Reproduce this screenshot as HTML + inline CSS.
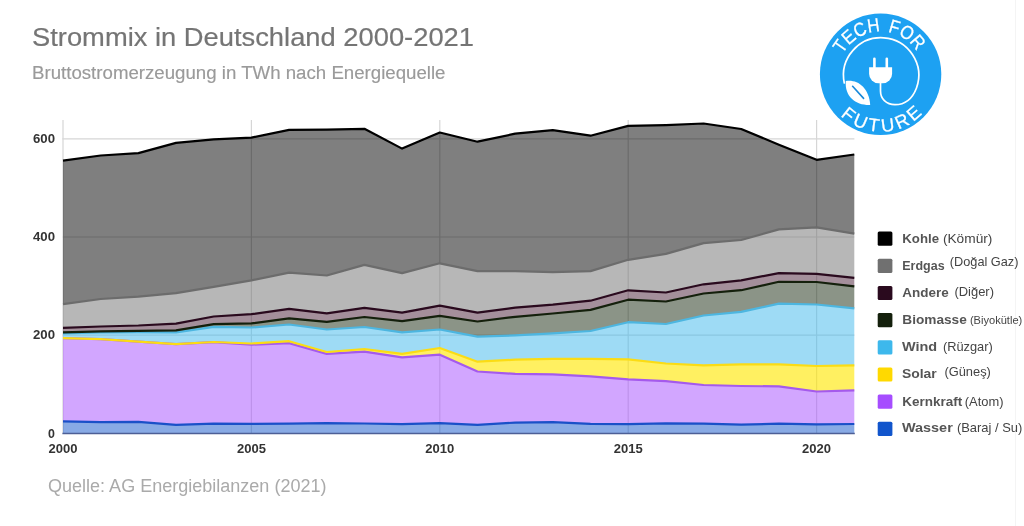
<!DOCTYPE html>
<html lang="de"><head><meta charset="utf-8"><title>Strommix in Deutschland 2000-2021</title>
<style>
html,body{margin:0;padding:0;background:#fff;}
svg{display:block;}
text{font-family:"Liberation Sans",sans-serif;}
.title{font-size:26.2px;fill:#757575;stroke:#757575;stroke-width:0.2px;}
.sub{font-size:17.6px;fill:#9a9a9a;stroke:#9a9a9a;stroke-width:0.15px;}
.ax{font-size:13.5px;font-weight:bold;fill:#333;}
.lg{font-size:13px;font-weight:bold;fill:#555;}
.tr{fill:#444;}
.src{font-size:18px;fill:#aaaaaa;}
.logo{fill:#fff;stroke:#fff;stroke-width:0.25px;}
</style></head>
<body>
<svg width="1024" height="526" viewBox="0 0 1024 526">
<rect width="1024" height="526" fill="#ffffff"/>
<g id="page">
<line x1="1015.5" y1="0" x2="1015.5" y2="526" stroke="#f4f4f4" stroke-width="1"/>
<text x="32" y="45.5" textLength="442" lengthAdjust="spacingAndGlyphs" class="title">Strommix in Deutschland 2000-2021</text>
<text x="32" y="78.7" textLength="413.5" lengthAdjust="spacingAndGlyphs" class="sub">Bruttostromerzeugung in TWh nach Energiequelle</text>
<g id="grid" stroke="#d6d6d6" stroke-width="1.2" fill="none">
<line x1="62.4" y1="335.2" x2="854.4" y2="335.2"/>
<line x1="62.4" y1="237.0" x2="854.4" y2="237.0"/>
<line x1="62.4" y1="138.8" x2="854.4" y2="138.8"/>
<line x1="63.0" y1="120" x2="63.0" y2="433.5"/>
<line x1="251.4" y1="120" x2="251.4" y2="433.5"/>
<line x1="439.8" y1="120" x2="439.8" y2="433.5"/>
<line x1="628.2" y1="120" x2="628.2" y2="433.5"/>
<line x1="816.6" y1="120" x2="816.6" y2="433.5"/>
</g>
<g id="areas" stroke="none">
<polygon points="63.0,421.3 100.7,422.1 138.4,421.9 176.0,424.8 213.7,423.6 251.4,423.9 289.1,423.7 326.8,423.1 364.4,423.5 402.1,424.2 439.8,423.2 477.5,424.8 515.2,422.6 552.8,422.2 590.5,423.9 628.2,424.2 665.9,423.4 703.6,423.6 741.2,424.7 778.9,423.6 816.6,424.3 854.3,424.0 854.3,433.5 816.6,433.5 778.9,433.5 741.2,433.5 703.6,433.5 665.9,433.5 628.2,433.5 590.5,433.5 552.8,433.5 515.2,433.5 477.5,433.5 439.8,433.5 402.1,433.5 364.4,433.5 326.8,433.5 289.1,433.5 251.4,433.5 213.7,433.5 176.0,433.5 138.4,433.5 100.7,433.5 63.0,433.5" fill="#1155cc" fill-opacity="0.5"/>
<polygon points="63.0,338.2 100.7,339.2 138.4,341.6 176.0,344.1 213.7,342.2 251.4,344.7 289.1,343.1 326.8,353.9 364.4,351.6 402.1,357.4 439.8,354.7 477.5,371.5 515.2,373.9 552.8,374.4 590.5,376.4 628.2,379.3 665.9,381.1 703.6,385.0 741.2,386.0 778.9,386.4 816.6,391.5 854.3,390.3 854.3,424.0 816.6,424.3 778.9,423.6 741.2,424.7 703.6,423.6 665.9,423.4 628.2,424.2 590.5,423.9 552.8,422.2 515.2,422.6 477.5,424.8 439.8,423.2 402.1,424.2 364.4,423.5 326.8,423.1 289.1,423.7 251.4,423.9 213.7,423.6 176.0,424.8 138.4,421.9 100.7,422.1 63.0,421.3" fill="#a64dff" fill-opacity="0.5"/>
<polygon points="63.0,338.2 100.7,339.2 138.4,341.6 176.0,344.1 213.7,342.0 251.4,343.5 289.1,341.2 326.8,352.0 364.4,349.0 402.1,353.9 439.8,348.0 477.5,361.7 515.2,359.7 552.8,358.8 590.5,358.8 628.2,359.4 665.9,363.5 703.6,365.4 741.2,364.4 778.9,364.4 816.6,366.0 854.3,365.4 854.3,390.3 816.6,391.5 778.9,386.4 741.2,386.0 703.6,385.0 665.9,381.1 628.2,379.3 590.5,376.4 552.8,374.4 515.2,373.9 477.5,371.5 439.8,354.7 402.1,357.4 364.4,351.6 326.8,353.9 289.1,343.1 251.4,344.7 213.7,342.2 176.0,344.1 138.4,341.6 100.7,339.2 63.0,338.2" fill="#ffe600" fill-opacity="0.62"/>
<polygon points="63.0,333.3 100.7,332.5 138.4,332.2 176.0,332.3 213.7,326.8 251.4,327.5 289.1,324.5 326.8,329.5 364.4,327.0 402.1,332.4 439.8,329.5 477.5,336.7 515.2,335.4 552.8,333.3 590.5,331.0 628.2,322.2 665.9,324.0 703.6,315.5 741.2,311.8 778.9,303.7 816.6,304.5 854.3,308.4 854.3,365.4 816.6,366.0 778.9,364.4 741.2,364.4 703.6,365.4 665.9,363.5 628.2,359.4 590.5,358.8 552.8,358.8 515.2,359.7 477.5,361.7 439.8,348.0 402.1,353.9 364.4,349.0 326.8,352.0 289.1,341.2 251.4,343.5 213.7,342.0 176.0,344.1 138.4,341.6 100.7,339.2 63.0,338.2" fill="#3db8ec" fill-opacity="0.5"/>
<polygon points="63.0,332.4 100.7,331.4 138.4,330.8 176.0,330.4 213.7,324.1 251.4,323.4 289.1,318.3 326.8,321.8 364.4,317.0 402.1,321.2 439.8,315.8 477.5,321.5 515.2,316.8 552.8,313.5 590.5,309.9 628.2,299.7 665.9,301.5 703.6,293.5 741.2,290.2 778.9,281.8 816.6,282.0 854.3,286.3 854.3,308.4 816.6,304.5 778.9,303.7 741.2,311.8 703.6,315.5 665.9,324.0 628.2,322.2 590.5,331.0 552.8,333.3 515.2,335.4 477.5,336.7 439.8,329.5 402.1,332.4 364.4,327.0 326.8,329.5 289.1,324.5 251.4,327.5 213.7,326.8 176.0,332.3 138.4,332.2 100.7,332.5 63.0,333.3" fill="#182a10" fill-opacity="0.5"/>
<polygon points="63.0,327.8 100.7,326.5 138.4,325.5 176.0,323.6 213.7,316.5 251.4,314.2 289.1,308.8 326.8,313.3 364.4,307.8 402.1,312.7 439.8,305.6 477.5,312.7 515.2,307.6 552.8,304.6 590.5,300.7 628.2,290.3 665.9,292.5 703.6,284.3 741.2,280.4 778.9,273.1 816.6,273.9 854.3,277.8 854.3,286.3 816.6,282.0 778.9,281.8 741.2,290.2 703.6,293.5 665.9,301.5 628.2,299.7 590.5,309.9 552.8,313.5 515.2,316.8 477.5,321.5 439.8,315.8 402.1,321.2 364.4,317.0 326.8,321.8 289.1,318.3 251.4,323.4 213.7,324.1 176.0,330.4 138.4,330.8 100.7,331.4 63.0,332.4" fill="#4a2038" fill-opacity="0.5"/>
<polygon points="63.0,304.1 100.7,299.0 138.4,296.7 176.0,293.1 213.7,286.8 251.4,280.3 289.1,272.7 326.8,275.5 364.4,264.9 402.1,273.1 439.8,263.3 477.5,271.1 515.2,271.1 552.8,272.1 590.5,271.1 628.2,259.8 665.9,253.9 703.6,243.1 741.2,240.0 778.9,229.4 816.6,227.4 854.3,233.7 854.3,277.8 816.6,273.9 778.9,273.1 741.2,280.4 703.6,284.3 665.9,292.5 628.2,290.3 590.5,300.7 552.8,304.6 515.2,307.6 477.5,312.7 439.8,305.6 402.1,312.7 364.4,307.8 326.8,313.3 289.1,308.8 251.4,314.2 213.7,316.5 176.0,323.6 138.4,325.5 100.7,326.5 63.0,327.8" fill="#707070" fill-opacity="0.5"/>
<polygon points="63.0,160.6 100.7,155.5 138.4,153.1 176.0,142.9 213.7,139.4 251.4,137.7 289.1,129.8 326.8,129.6 364.4,128.8 402.1,148.6 439.8,132.5 477.5,141.7 515.2,133.7 552.8,130.2 590.5,135.7 628.2,125.9 665.9,125.1 703.6,123.5 741.2,129.0 778.9,144.7 816.6,159.8 854.3,154.5 854.3,233.7 816.6,227.4 778.9,229.4 741.2,240.0 703.6,243.1 665.9,253.9 628.2,259.8 590.5,271.1 552.8,272.1 515.2,271.1 477.5,271.1 439.8,263.3 402.1,273.1 364.4,264.9 326.8,275.5 289.1,272.7 251.4,280.3 213.7,286.8 176.0,293.1 138.4,296.7 100.7,299.0 63.0,304.1" fill="#000000" fill-opacity="0.5"/>
</g>
<g id="lines" fill="none" stroke-width="2.2" stroke-linejoin="round">
<polyline points="63.0,421.3 100.7,422.1 138.4,421.9 176.0,424.8 213.7,423.6 251.4,423.9 289.1,423.7 326.8,423.1 364.4,423.5 402.1,424.2 439.8,423.2 477.5,424.8 515.2,422.6 552.8,422.2 590.5,423.9 628.2,424.2 665.9,423.4 703.6,423.6 741.2,424.7 778.9,423.6 816.6,424.3 854.3,424.0" stroke="#1a50c8"/>
<polyline points="63.0,338.2 100.7,339.2 138.4,341.6 176.0,344.1 213.7,342.2 251.4,344.7 289.1,343.1 326.8,353.9 364.4,351.6 402.1,357.4 439.8,354.7 477.5,371.5 515.2,373.9 552.8,374.4 590.5,376.4 628.2,379.3 665.9,381.1 703.6,385.0 741.2,386.0 778.9,386.4 816.6,391.5 854.3,390.3" stroke="#a55aec"/>
<polyline points="63.0,338.2 100.7,339.2 138.4,341.6 176.0,344.1 213.7,342.0 251.4,343.5 289.1,341.2 326.8,352.0 364.4,349.0 402.1,353.9 439.8,348.0 477.5,361.7 515.2,359.7 552.8,358.8 590.5,358.8 628.2,359.4 665.9,363.5 703.6,365.4 741.2,364.4 778.9,364.4 816.6,366.0 854.3,365.4" stroke="#fbdc14"/>
<polyline points="63.0,333.3 100.7,332.5 138.4,332.2 176.0,332.3 213.7,326.8 251.4,327.5 289.1,324.5 326.8,329.5 364.4,327.0 402.1,332.4 439.8,329.5 477.5,336.7 515.2,335.4 552.8,333.3 590.5,331.0 628.2,322.2 665.9,324.0 703.6,315.5 741.2,311.8 778.9,303.7 816.6,304.5 854.3,308.4" stroke="#4db6e0"/>
<polyline points="63.0,332.4 100.7,331.4 138.4,330.8 176.0,330.4 213.7,324.1 251.4,323.4 289.1,318.3 326.8,321.8 364.4,317.0 402.1,321.2 439.8,315.8 477.5,321.5 515.2,316.8 552.8,313.5 590.5,309.9 628.2,299.7 665.9,301.5 703.6,293.5 741.2,290.2 778.9,281.8 816.6,282.0 854.3,286.3" stroke="#14200c"/>
<polyline points="63.0,327.8 100.7,326.5 138.4,325.5 176.0,323.6 213.7,316.5 251.4,314.2 289.1,308.8 326.8,313.3 364.4,307.8 402.1,312.7 439.8,305.6 477.5,312.7 515.2,307.6 552.8,304.6 590.5,300.7 628.2,290.3 665.9,292.5 703.6,284.3 741.2,280.4 778.9,273.1 816.6,273.9 854.3,277.8" stroke="#2a0a1e"/>
<polyline points="63.0,304.1 100.7,299.0 138.4,296.7 176.0,293.1 213.7,286.8 251.4,280.3 289.1,272.7 326.8,275.5 364.4,264.9 402.1,273.1 439.8,263.3 477.5,271.1 515.2,271.1 552.8,272.1 590.5,271.1 628.2,259.8 665.9,253.9 703.6,243.1 741.2,240.0 778.9,229.4 816.6,227.4 854.3,233.7" stroke="#6c6c6c"/>
<polyline points="63.0,160.6 100.7,155.5 138.4,153.1 176.0,142.9 213.7,139.4 251.4,137.7 289.1,129.8 326.8,129.6 364.4,128.8 402.1,148.6 439.8,132.5 477.5,141.7 515.2,133.7 552.8,130.2 590.5,135.7 628.2,125.9 665.9,125.1 703.6,123.5 741.2,129.0 778.9,144.7 816.6,159.8 854.3,154.5" stroke="#000000"/>
</g>
<line x1="62.4" y1="433.5" x2="854.8" y2="433.5" stroke="#4d5f96" stroke-width="1.5"/>
<text x="48.1" y="437.6" textLength="6.9" lengthAdjust="spacingAndGlyphs" class="ax">0</text>
<text x="33.0" y="339.4" textLength="22" lengthAdjust="spacingAndGlyphs" class="ax">200</text>
<text x="33.0" y="241.1" textLength="22" lengthAdjust="spacingAndGlyphs" class="ax">400</text>
<text x="33.0" y="142.8" textLength="22" lengthAdjust="spacingAndGlyphs" class="ax">600</text>
<text x="48.5" y="452.8" textLength="29" lengthAdjust="spacingAndGlyphs" class="ax">2000</text>
<text x="236.9" y="452.8" textLength="29" lengthAdjust="spacingAndGlyphs" class="ax">2005</text>
<text x="425.3" y="452.8" textLength="29" lengthAdjust="spacingAndGlyphs" class="ax">2010</text>
<text x="613.7" y="452.8" textLength="29" lengthAdjust="spacingAndGlyphs" class="ax">2015</text>
<text x="802.1" y="452.8" textLength="29" lengthAdjust="spacingAndGlyphs" class="ax">2020</text>
<rect x="877.7" y="231.6" width="14.7" height="14.2" rx="1.5" fill="#000000"/>
<text x="902.3" y="242.6" textLength="36.7" lengthAdjust="spacingAndGlyphs" class="lg">Kohle</text>
<text x="942.9000000000001" y="242.6" textLength="49.5" lengthAdjust="spacingAndGlyphs" class="tr" font-size="13">(Kömür)</text>
<rect x="877.7" y="258.8" width="14.7" height="14.2" rx="1.5" fill="#707070"/>
<text x="902.3" y="269.5" textLength="42.3" lengthAdjust="spacingAndGlyphs" class="lg">Erdgas</text>
<text x="949.8000000000001" y="266.4" textLength="68.7" lengthAdjust="spacingAndGlyphs" class="tr" font-size="12.7">(Doğal Gaz)</text>
<rect x="877.7" y="285.9" width="14.7" height="14.2" rx="1.5" fill="#2a0a1e"/>
<text x="902.3" y="296.8" textLength="46.4" lengthAdjust="spacingAndGlyphs" class="lg">Andere</text>
<text x="954.4000000000001" y="295.9" textLength="39.6" lengthAdjust="spacingAndGlyphs" class="tr" font-size="12.8">(Diğer)</text>
<rect x="877.7" y="313.1" width="14.7" height="14.2" rx="1.5" fill="#14200c"/>
<text x="902.3" y="324.2" textLength="64.5" lengthAdjust="spacingAndGlyphs" class="lg">Biomasse</text>
<text x="969.9000000000001" y="324.2" textLength="52.4" lengthAdjust="spacingAndGlyphs" class="tr" font-size="11">(Biyokütle)</text>
<rect x="877.7" y="340.3" width="14.7" height="14.2" rx="1.5" fill="#3db8ec"/>
<text x="901.9" y="351.2" textLength="35.2" lengthAdjust="spacingAndGlyphs" class="lg">Wind</text>
<text x="942.9000000000001" y="350.6" textLength="49.9" lengthAdjust="spacingAndGlyphs" class="tr" font-size="12.8">(Rüzgar)</text>
<rect x="877.7" y="367.4" width="14.7" height="14.2" rx="1.5" fill="#ffd900"/>
<text x="901.9" y="378.2" textLength="34.8" lengthAdjust="spacingAndGlyphs" class="lg">Solar</text>
<text x="944.4000000000001" y="375.7" textLength="46.5" lengthAdjust="spacingAndGlyphs" class="tr" font-size="12.8">(Güneş)</text>
<rect x="877.7" y="394.6" width="14.7" height="14.2" rx="1.5" fill="#a64dff"/>
<text x="902.3" y="405.6" textLength="59.9" lengthAdjust="spacingAndGlyphs" class="lg">Kernkraft</text>
<text x="964.8000000000001" y="406.4" textLength="38.7" lengthAdjust="spacingAndGlyphs" class="tr" font-size="12.8">(Atom)</text>
<rect x="877.7" y="421.8" width="14.7" height="14.2" rx="1.5" fill="#1155cc"/>
<text x="901.9" y="432.4" textLength="50.9" lengthAdjust="spacingAndGlyphs" class="lg">Wasser</text>
<text x="956.9000000000001" y="432.4" textLength="65.4" lengthAdjust="spacingAndGlyphs" class="tr" font-size="12.8">(Baraj / Su)</text>
<text x="48" y="492.2" textLength="278.5" lengthAdjust="spacingAndGlyphs" class="src">Quelle: AG Energiebilanzen (2021)</text>
<g id="logo">
<circle cx="880.6" cy="74.3" r="60.7" fill="#1da1f2"/>
<path id="arcTop" d="M 837.80,74.3 A 42.8,42.8 0 0 1 923.40,74.3" fill="none"/>
<text class="logo" font-size="19" word-spacing="3" textLength="89.1" lengthAdjust="spacingAndGlyphs"><textPath href="#arcTop" startOffset="20.9">TECH FOR</textPath></text>
<path id="arcBot" d="M 823.00,74.3 A 57.6,57.6 0 0 0 938.20,74.3" fill="none"/>
<text class="logo" font-size="18.3" textLength="91.1" lengthAdjust="spacing"><textPath href="#arcBot" startOffset="45.9">FUTURE</textPath></text>
<path d="M 844.3,83 A 37.6,37.6 0 1 1 916.5,88 C 912.5,98.5 905,104.7 895,104.7 C 886,104.7 880.5,98.5 880.5,91 L 880.5,83" fill="none" stroke="#fff" stroke-width="1.7" stroke-linecap="round"/>
<path d="M 874.4,58.8 v 9 M 886.8,58.8 v 9" stroke="#fff" stroke-width="2.6" stroke-linecap="round" fill="none"/>
<path d="M 869.1,67.2 h 23 v 6.5 a 9.5,9.5 0 0 1 -9.5,9.5 h -4 a 9.5,9.5 0 0 1 -9.5,-9.5 z" fill="#fff"/>
<path d="M 845.8,81 C 857,79 869,87 870.2,105 C 856,105.5 844.5,97 845.8,81 z" fill="#fff"/>
<path d="M 852.6,86.3 L 863.6,98.4" stroke="#1889da" stroke-width="1.6" stroke-linecap="round"/>
</g>
</g>
</svg>
</body></html>
